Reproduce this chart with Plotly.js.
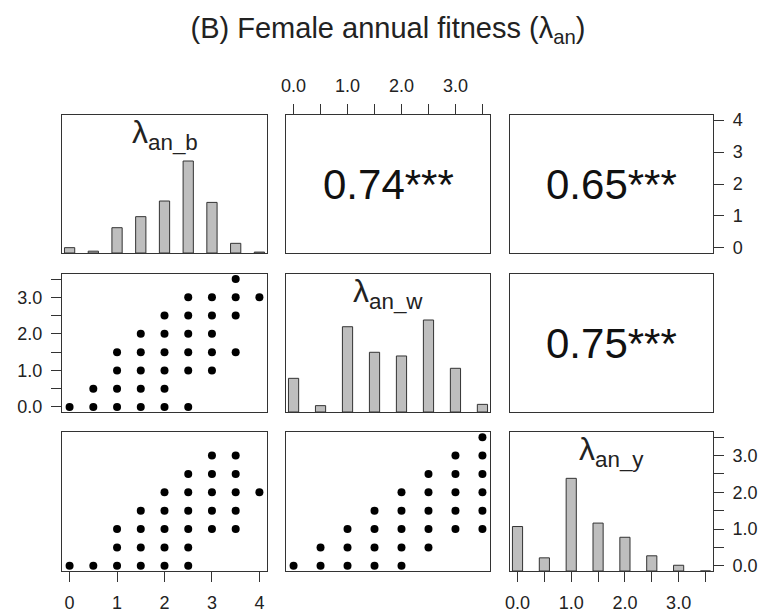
<!DOCTYPE html>
<html>
<head>
<meta charset="utf-8">
<script src="https://cdn.plot.ly/plotly-3.0.1.min.js"></script>
<style>html,body{margin:0;padding:0;background:#fff;}#chart{width:763px;height:616px;}</style>
</head>
<body>
<div id="chart"></div>
<script>
// ---------- data ----------
const varNames = ['an_b', 'an_w', 'an_y'];
const correlations = {b_w: '0.74***', b_y: '0.65***', w_y: '0.75***'};

// histogram levels and relative bar heights (tallest bar = 1)
const levelsB = [0, 0.5, 1, 1.5, 2, 2.5, 3, 3.5, 4];
const relB    = [0.058, 0.02, 0.275, 0.395, 0.565, 1.0, 0.55, 0.105, 0.01];
const levelsW = [0, 0.5, 1, 1.5, 2, 2.5, 3, 3.5];
const relW    = [0.366, 0.069, 0.927, 0.649, 0.609, 1.0, 0.475, 0.083];
const levelsY = [0, 0.5, 1, 1.5, 2, 2.5, 3, 3.5];
const relY    = [0.48, 0.142, 1.0, 0.517, 0.364, 0.164, 0.062, 0];

// scatter: lambda_an_b (x) vs lambda_an_w (y)
const bwX = [0,0.5,1,1.5,2,2.5, 0.5,1,1.5,2, 1,1.5,2,2.5,3, 1,1.5,2,2.5,3,3.5, 1.5,2,2.5,3, 2,2.5,3,3.5, 2.5,3,3.5,4, 3.5];
const bwY = [0,0,0,0,0,0, 0.5,0.5,0.5,0.5, 1,1,1,1,1, 1.5,1.5,1.5,1.5,1.5,1.5, 2,2,2,2, 2.5,2.5,2.5,2.5, 3,3,3,3, 3.5];
// scatter: lambda_an_b (x) vs lambda_an_y (y)
const byX = [0,0.5,1,1.5,2,2.5, 1,1.5,2,2.5, 1,1.5,2,2.5,3,3.5, 1.5,2,2.5,3,3.5, 2,2.5,3,3.5,4, 2.5,3,3.5, 3,3.5];
const byY = [0,0,0,0,0,0, 0.5,0.5,0.5,0.5, 1,1,1,1,1,1, 1.5,1.5,1.5,1.5,1.5, 2,2,2,2,2, 2.5,2.5,2.5, 3,3];
// scatter: lambda_an_w (x) vs lambda_an_y (y)
const wyX = [0,0.5,1,1.5,2, 0.5,1,1.5,2,2.5, 1,1.5,2,2.5,3,3.5, 1.5,2,2.5,3,3.5, 2,2.5,3,3.5, 2.5,3,3.5, 3,3.5, 3.5];
const wyY = [0,0,0,0,0, 0.5,0.5,0.5,0.5,0.5, 1,1,1,1,1,1, 1.5,1.5,1.5,1.5,1.5, 2,2,2,2, 2.5,2.5,2.5, 3,3, 3.5];

// tick labels
const ticksB = [0, 1, 2, 3, 4];
const tickTextB = ['0', '1', '2', '3', '4'];
const ticksHalf = [0, 1, 2, 3];
const tickTextHalf = ['0.0', '1.0', '2.0', '3.0'];
const minorTicksHalf = [0.5, 1.5, 2.5, 3.5];

// ---------- layout helpers ----------
const W = 763, H = 616;
const colPx = [[62, 267], [286, 490], [510, 713]];
const rowPx = [[115, 253], [274, 412], [432, 571]];
const colDom = colPx.map(c => [c[0] / W, c[1] / W]);
const rowDom = rowPx.map(r => [1 - r[1] / H, 1 - r[0] / H]);

function ext(lo, hi) { const d = (hi - lo) * 0.04; return [lo - d, hi + d]; }
const rangeB = ext(0, 4), rangeW = ext(0, 3.5), rangeY = ext(0, 3.5);
const ranges = [rangeB, rangeW, rangeY];
const levels = [levelsB, levelsW, levelsY];

const lineCol = '#333';
const font = {family: 'Liberation Sans, Arial, sans-serif', color: '#222'};

function baseAxis(domain, range) {
  return {domain: domain, range: range, showline: true, mirror: true, linecolor: lineCol,
    linewidth: 1.2, zeroline: false, showgrid: false, ticks: '', showticklabels: false,
    fixedrange: true};
}
function tickAxis(ax, vals, text, side, minorVals) {
  Object.assign(ax, {ticks: 'outside', ticklen: 10, tickwidth: 1, tickcolor: lineCol,
    tickmode: 'array', tickvals: vals, ticktext: text, showticklabels: true, side: side,
    tickfont: Object.assign({size: 18}, font), ticklabelstandoff: 5});
  if (minorVals) {
    ax.minor = {tickmode: 'array', tickvals: minorVals, ticks: 'outside', ticklen: 10,
      tickwidth: 1, tickcolor: lineCol, showgrid: false};
  }
  return ax;
}

const layout = {
  width: W, height: H, margin: {l: 0, r: 0, t: 0, b: 0},
  paper_bgcolor: '#fff', plot_bgcolor: '#fff', showlegend: false,
  title: {text: '(B) Female annual fitness (λ<sub>an</sub>)', font: Object.assign({size: 29}, font),
    x: 388 / W, xanchor: 'center', y: 1 - 28 / H, yanchor: 'middle', xref: 'paper', yref: 'paper'},
  annotations: [], bargap: 0
};

for (let r = 0; r < 3; r++) {
  for (let c = 0; c < 3; c++) {
    const k = r * 3 + c + 1;
    const xa = baseAxis(colDom[c], ranges[c]);
    const ya = baseAxis(rowDom[r], r === c ? [0, 1.5] : ranges[r]);
    xa.anchor = 'y' + k; ya.anchor = 'x' + k;
    layout['xaxis' + k] = xa;
    layout['yaxis' + k] = ya;
  }
}
// outer axes (R pairs style, alternating sides)
tickAxis(layout.xaxis2, ticksHalf, tickTextHalf, 'top', minorTicksHalf);   // lambda_an_w on top
tickAxis(layout.yaxis3, ticksB, tickTextB, 'right');                       // lambda_an_b on right
tickAxis(layout.yaxis4, ticksHalf, tickTextHalf, 'left', minorTicksHalf);  // lambda_an_w on left
tickAxis(layout.xaxis7, ticksB, tickTextB, 'bottom');                      // lambda_an_b on bottom
tickAxis(layout.xaxis9, ticksHalf, tickTextHalf, 'bottom', minorTicksHalf);// lambda_an_y on bottom
// right axis of last diagonal panel (variable scale, overlaying histogram scale)
layout.yaxis10 = tickAxis({domain: rowDom[2], range: rangeY, overlaying: 'y9', anchor: 'x9',
  showline: false, zeroline: false, showgrid: false, fixedrange: true},
  ticksHalf, tickTextHalf, 'right', minorTicksHalf);

// ---------- traces ----------
const traces = [];
const hists = [[levelsB, relB], [levelsW, relW], [levelsY, relY]];
hists.forEach((h, i) => {
  const k = i * 4 + 1;
  const span = ranges[i][1] - ranges[i][0];
  traces.push({type: 'bar', x: h[0], y: h[1], width: span * 0.05, base: 0,
    xaxis: 'x' + k, yaxis: 'y' + k,
    marker: {color: '#BEBEBE', line: {color: lineCol, width: 1}}, hoverinfo: 'skip'});
  layout.annotations.push({text: 'λ<sub>' + varNames[i] + '</sub>', xref: 'x' + k + ' domain',
    yref: 'y' + k + ' domain', x: 0.5, y: 0.86, xanchor: 'center', yanchor: 'middle',
    showarrow: false, font: Object.assign({size: 32}, font)});
});
// invisible traces so that the empty upper panels and the overlaying axis are created
[[2, 1, 0], [3, 2, 0], [6, 2, 1]].forEach(p => {
  traces.push({type: 'scatter', mode: 'markers', x: levels[p[1]], y: levels[p[2]],
    xaxis: 'x' + p[0], yaxis: 'y' + p[0], marker: {opacity: 0}, hoverinfo: 'skip'});
});
traces.push({type: 'scatter', mode: 'markers', x: levelsY, y: levelsY, xaxis: 'x9', yaxis: 'y10',
  marker: {opacity: 0}, hoverinfo: 'skip'});

const scat = [[bwX, bwY, 4], [byX, byY, 7], [wyX, wyY, 8]];
scat.forEach(s => {
  traces.push({type: 'scatter', mode: 'markers', x: s[0], y: s[1], xaxis: 'x' + s[2], yaxis: 'y' + s[2],
    marker: {color: '#000', size: 8}, hoverinfo: 'skip', cliponaxis: false});
});

// correlation texts in the upper panels
[[2, correlations.b_w], [3, correlations.b_y], [6, correlations.w_y]].forEach(p => {
  layout.annotations.push({text: p[1], xref: 'x' + p[0] + ' domain', yref: 'y' + p[0] + ' domain',
    x: 0.5, y: 0.5, xanchor: 'center', yanchor: 'middle', showarrow: false,
    font: Object.assign({size: 42}, font, {color: '#111'})});
});

Plotly.newPlot('chart', traces, layout, {displayModeBar: false, staticPlot: true});
</script>
</body>
</html>
